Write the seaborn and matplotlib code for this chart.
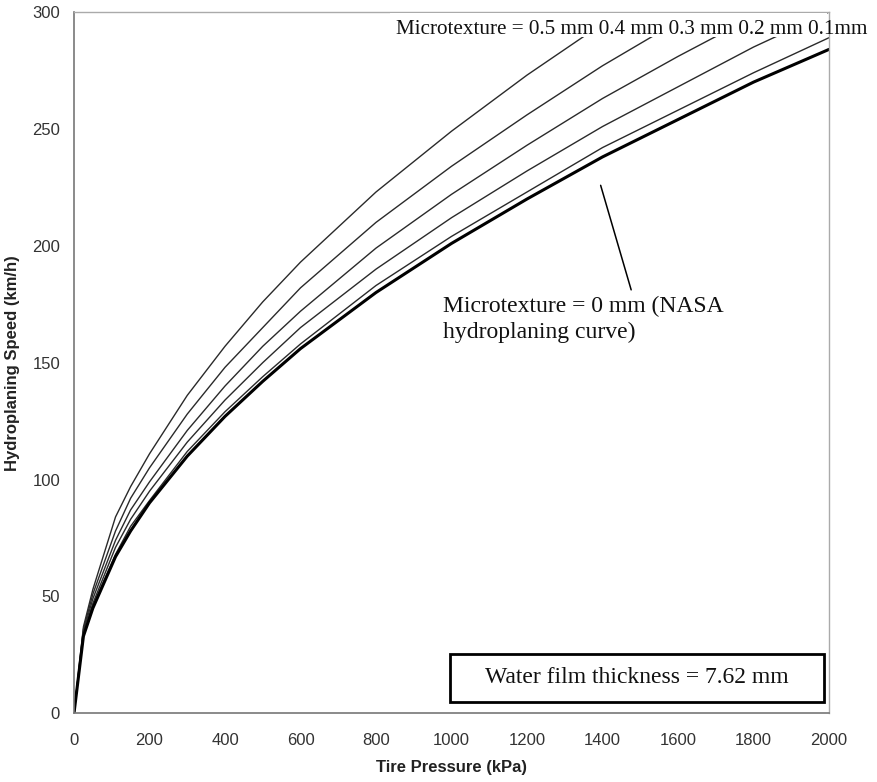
import matplotlib
matplotlib.use("Agg")
import matplotlib.pyplot as plt
import seaborn as sns
import pandas as pd
from matplotlib.patches import Rectangle

# Data
pressure = [0, 25, 50, 110, 150, 200, 300, 400, 500, 600, 800, 1000, 1200, 1400, 1600, 1800, 2000]
speed_05 = [0, 37, 53, 84, 97, 111, 136, 157, 176, 193, 223, 249, 273, 295, 315, 335, 352]
speed_04 = [0, 36, 51, 78, 92, 105, 128, 148, 165, 182, 210, 234, 256, 277, 296, 315, 331]
speed_03 = [0, 35, 49, 74, 87, 99, 121, 140, 157, 172, 199, 222, 243, 263, 281, 298, 314]
speed_02 = [0, 34, 47, 71, 83, 95, 116, 134, 150, 165, 190, 212, 232, 251, 268, 285, 300]
speed_01 = [0, 33, 46, 68, 80, 91, 112, 129, 144, 158, 183, 204, 223, 242, 258, 274, 289]
speed_00 = [0, 33, 45, 67, 78, 90, 110, 127, 142, 156, 180, 201, 220, 238, 254, 270, 284]

series = {
    "0.5 mm": speed_05,
    "0.4 mm": speed_04,
    "0.3 mm": speed_03,
    "0.2 mm": speed_02,
    "0.1 mm": speed_01,
    "0 mm": speed_00,
}
rows = []
for name, vals in series.items():
    for p, v in zip(pressure, vals):
        rows.append({"pressure": p, "speed": v, "texture": name})
df = pd.DataFrame(rows)

sns.set_style("white")
plt.rcParams["font.family"] = ["Liberation Sans", "DejaVu Sans"]

fig = plt.figure(figsize=(8.77, 7.82), dpi=100)
ax = fig.add_axes([74/877, 1 - 713.3/782, 755/877, 701.3/782])

for name in series:
    sub = df[df["texture"] == name]
    if name == "0 mm":
        sns.lineplot(data=sub, x="pressure", y="speed", ax=ax, color="black",
                     linewidth=2.2, estimator=None, sort=False, legend=False)
    else:
        sns.lineplot(data=sub, x="pressure", y="speed", ax=ax, color="#2a2a2a",
                     linewidth=1.0, estimator=None, sort=False, legend=False)

ax.set_xlim(0, 2000)
ax.set_ylim(0, 300)
ax.set_xticks(range(0, 2001, 200))
ax.set_yticks(range(0, 301, 50))
ax.tick_params(axis="both", direction="out", length=5, width=1, color="#777777",
               labelsize=12, labelcolor="#333333")
ax.tick_params(axis="x", pad=9)
ax.tick_params(axis="y", pad=5)
for side in ["left", "bottom"]:
    ax.spines[side].set_color("#777777")
    ax.spines[side].set_linewidth(1.2)
for side in ["top", "right"]:
    ax.spines[side].set_visible(True)
    ax.spines[side].set_color("#aaaaaa")
    ax.spines[side].set_linewidth(1.0)

ax.set_xlabel("Tire Pressure (kPa)", fontsize=12, fontweight="bold", color="#222222", labelpad=9)
ax.set_ylabel("Hydroplaning Speed (km/h)", fontsize=12, fontweight="bold", color="#222222", labelpad=9)

serif = ["Liberation Serif", "DejaVu Serif"]
# white band under the top label, hiding curve ends
ax.add_patch(Rectangle((0.4185, 0.9644), 0.579, 0.034, transform=ax.transAxes,
                       facecolor="white", edgecolor="none", zorder=3))
fig.text(396/877, 1 - 34/782, "Microtexture = 0.5 mm 0.4 mm 0.3 mm 0.2 mm 0.1mm",
         family=serif, fontsize=15.2, color="#111111",
         ha="left", va="baseline", zorder=5)

fig.text(443/877, 1 - 296/782, "Microtexture = 0 mm (NASA\nhydroplaning curve)",
         family=serif, fontsize=17, color="#111111",
         ha="left", va="top", linespacing=1.3)
ax.annotate("", xy=(1393, 227), xytext=(1478, 180),
            arrowprops=dict(arrowstyle="-", lw=1.1, color="black"))

ax.add_patch(Rectangle((0.498, 0.016), 0.495, 0.069, transform=ax.transAxes,
                       facecolor="white", edgecolor="black", linewidth=2, zorder=4))
ax.text(0.745, 0.0505, "Water film thickness = 7.62 mm", transform=ax.transAxes,
        family=serif, fontsize=17, color="#111111", ha="center", va="center", zorder=5)

fig.savefig("out.png", dpi=100)
